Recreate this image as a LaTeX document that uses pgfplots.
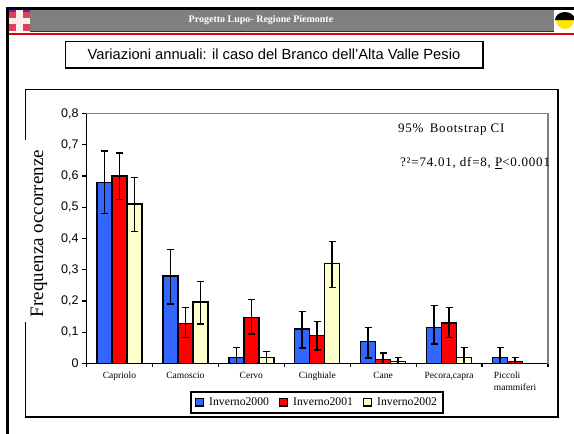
\documentclass[border=0pt]{standalone}
\usepackage{fontspec}
\setmainfont{Liberation Serif}
\newfontfamily\arial{Liberation Sans}
\newfontfamily\spaced[LetterSpace=6]{Liberation Serif}
\usepackage{pgfplots}
\usepackage{pgfplotstable}
\pgfplotsset{compat=1.18}
\definecolor{barblue}{HTML}{3366FF}
\definecolor{barred}{HTML}{FF0000}
\definecolor{barcream}{HTML}{FFFFCC}
\definecolor{bandgray}{HTML}{808080}
\definecolor{flagred}{HTML}{E2405A}

% x value, plus error, minus error
\pgfplotstableread{
x y ep em
0 0.58 0.10 0.10
1 0.28 0.085 0.09
2 0.02 0.032 0.02
3 0.11 0.057 0.06
4 0.07 0.046 0.052
5 0.116 0.07 0.053
6 0.02 0.032 0.02
}\inverno
\pgfplotstableread{
x y ep em
0 0.60 0.073 0.075
1 0.128 0.052 0.045
2 0.148 0.057 0.053
3 0.089 0.046 0.045
4 0.013 0.02 0.013
5 0.129 0.051 0.046
6 0.006 0.014 0.006
}\inverna
\pgfplotstableread{
x y ep em
0 0.51 0.086 0.088
1 0.197 0.066 0.07
2 0.02 0.019 0.02
3 0.32 0.07 0.077
4 0.006 0.014 0.006
5 0.02 0.032 0.02
6 0 0 0
}\invernb

\begin{document}
\begin{tikzpicture}
\begin{scope}[x=1pt,y=-1pt]
\useasboundingbox (0,0) rectangle (574,434);
% slide border and header
\fill[black] (6,7) rectangle (574,10);
\fill[black] (6,7) rectangle (9,434);
\fill[bandgray] (30,10) rectangle (554,31);
\fill[black!80] (30,30.5) rectangle (554,31.7);
\fill[red!90!black] (9,33) rectangle (574,35);
% flag
\fill[flagred] (9,10) rectangle (30,31);
\fill[blue!50!flagred] (9,10) rectangle (30,12);
\fill[white!90!flagred] (16,10) rectangle (23,31);
\fill[white!90!flagred] (9,17.5) rectangle (30,24);
% logo
\fill[white] (554,10) rectangle (574,31);
\fill[yellow!90!orange] (556,20) arc[start angle=180,end angle=0,radius=9] -- cycle;
\fill[black] (555,20) arc[start angle=180,end angle=360,x radius=10,y radius=8] -- cycle;
% title box
\draw[line width=1.4pt,fill=white] (65.5,41.5) rectangle (483,68);
\node[font=\arial\fontsize{14.7}{18}\selectfont] at (274,54.5) {Variazioni annuali: il caso del Branco dell’Alta Valle Pesio};
\node[font=\bfseries\fontsize{10}{12}\selectfont,text=white] at (261,20.5) {Progetto Lupo- Regione Piemonte};
% chart frame
\draw[line width=1.8pt] (25.5,89.5) rectangle (558,417);
\fill[white] (24,140) rectangle (27.5,322);
\end{scope}

\begin{axis}[
    at={(86.5pt,-363.5pt)},
    anchor=south west,
    scale only axis,
    width=461.5pt,
    height=250pt,
    ybar=0pt,
    bar width=15pt,
    clip=false,
    xmin=-0.5, xmax=6.5,
    ymin=0, ymax=0.8,
    axis x line*=bottom,
    axis y line*=left,
    axis line style={line width=1.4pt,-},
    ytick={0,0.1,...,0.8},
    yticklabel style={font=\arial\fontsize{12.5}{14}\selectfont,
        /pgf/number format/.cd,fixed,fixed zerofill=false,precision=1,use comma,assume math mode=true},
    xtick={0,...,6},
    minor xtick={-0.5,0.5,...,6.5},
    xticklabels={\strut Capriolo,\strut Camoscio,\strut Cervo,\strut Cinghiale,\strut Cane,{\strut Pecora,capra},{\strut Piccoli\\mammiferi}},
    xticklabel style={font=\fontsize{9.5}{12}\selectfont,align=left,yshift=1pt},
    tick align=outside,
    major x tick style={draw=none},
    tick style={line width=1.2pt,black},
    major tick length=4.5pt,
    minor tick length=3pt,
    every axis y label/.style={at={(axis description cs:-0.103,0.52)},rotate=90,anchor=center},
    ylabel={Frequenza occorrenze},
    ylabel style={font=\fontsize{19}{21}\selectfont},
    legend columns=3,
    legend style={at={(axis description cs:0.4995,-0.156)},anchor=center,
        draw=black,line width=1.4pt,font=\fontsize{11.7}{13}\selectfont,
        inner xsep=4pt,inner ysep=4pt,
        /tikz/every odd column/.append style={column sep=3pt},
        /tikz/every even column/.append style={column sep=8pt}},
    legend image code/.code={
        \draw[#1,line width=1.2pt] (0pt,-3.5pt) rectangle (8pt,4pt);
    },
    error bars/y dir=both,
    error bars/y explicit,
    error bars/error bar style={line width=1.5pt,black},
    error bars/error mark options={rotate=90,mark size=3.5pt,line width=1.5pt,black},
]
\addplot[fill=barblue,draw=black,line width=1.5pt] table[x=x,y=y,y error plus=ep,y error minus=em] {\inverno};
\addplot[fill=barred,draw=black,line width=1.5pt] table[x=x,y=y,y error plus=ep,y error minus=em] {\inverna};
\addplot[fill=barcream,draw=black,line width=1.5pt] table[x=x,y=y,y error plus=ep,y error minus=em] {\invernb};
\legend{Inverno2000,Inverno2001,Inverno2002}
\draw[gray,line width=1.2pt] (rel axis cs:0,1) -- (rel axis cs:1,1) -- (rel axis cs:1,0);
\end{axis}

\begin{scope}[x=1pt,y=-1pt]
\node[anchor=west,font=\spaced\fontsize{13}{15}\selectfont,inner sep=0pt] at (398,130) {95\%\ \,Bootstrap CI};
\node[anchor=west,font=\spaced\fontsize{13}{15}\selectfont,inner sep=0pt] at (400,163) {?²=74.01, df=8, \underline{P}<0.0001};
\end{scope}
\end{tikzpicture}
\end{document}
